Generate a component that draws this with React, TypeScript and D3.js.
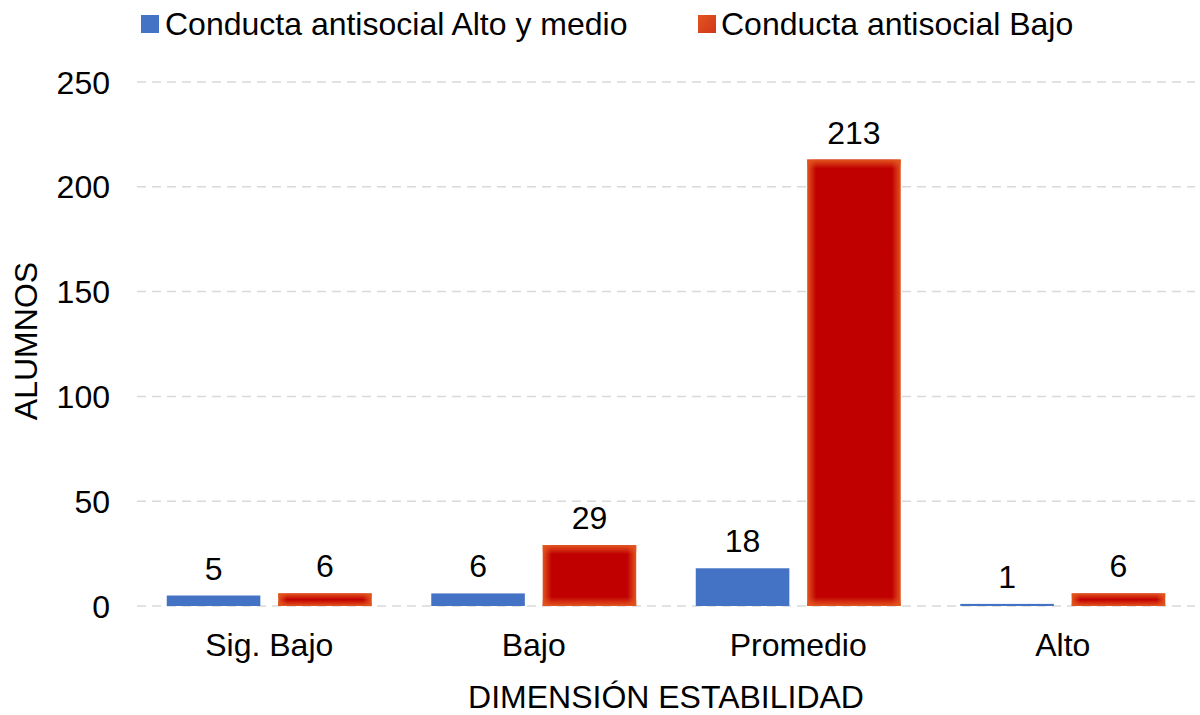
import React from "react";
import * as d3 from "d3";

const categories = ["Sig. Bajo", "Bajo", "Promedio", "Alto"];
const seriesNames = ["Conducta antisocial Alto y medio", "Conducta antisocial Bajo"];
const altoMedio = [5, 6, 18, 1];
const bajo = [6, 29, 213, 6];
const yTicks = [0, 50, 100, 150, 200, 250];

const W = 1200;
const H = 715;
const left = 137;
const right = 1195;
const top = 82;
const bottom = 606;
const FONT = "'Liberation Sans', Arial, sans-serif";
const FS = 32;
const BLUE = "#4472C4";

export default function App() {
  const x0 = d3.scaleBand<string>().domain(categories).range([left, right]).paddingInner(0.225).paddingOuter(0.1125);
  const x1 = d3.scaleBand<number>().domain([0, 1]).range([0, x0.bandwidth()]).paddingInner(0.16).paddingOuter(0);
  const y = d3.scaleLinear().domain([0, 250]).range([bottom, top]);

  const bars: { key: string; x: number; yTop: number; w: number; h: number; s: number; v: number }[] = [];
  categories.forEach((c, i) => {
    [altoMedio[i], bajo[i]].forEach((v, s) => {
      const xx = (x0(c) as number) + (x1(s) as number);
      const yt = y(v);
      bars.push({ key: `${i}-${s}`, x: xx, yTop: yt, w: x1.bandwidth(), h: y(0) - yt, s, v });
    });
  });

  const glow = 9;

  return (
    <svg width={W} height={H} style={{ display: "block", position: "absolute", left: 0, top: 0 }} fontFamily={FONT}>
      <defs>
        {bars.filter((b) => b.s === 1).map((b) => {
          const ox = Math.min(0.5, glow / b.w);
          const oy = Math.min(0.5, glow / Math.max(b.h, 1));
          return (
            <React.Fragment key={b.key}>
              <linearGradient id={`gh-${b.key}`} x1="0" y1="0" x2="1" y2="0">
                <stop offset="0" stopColor="#E2561F" />
                <stop offset={ox} stopColor="#C00000" />
                <stop offset={1 - ox} stopColor="#C00000" />
                <stop offset="1" stopColor="#E2561F" />
              </linearGradient>
              <linearGradient id={`gv-${b.key}`} x1="0" y1="0" x2="0" y2="1">
                <stop offset="0" stopColor="#E2561F" stopOpacity="1" />
                <stop offset={oy} stopColor="#E2561F" stopOpacity="0" />
                <stop offset={1 - oy} stopColor="#E2561F" stopOpacity="0" />
                <stop offset="1" stopColor="#E2561F" stopOpacity="1" />
              </linearGradient>
            </React.Fragment>
          );
        })}
        <linearGradient id="legRed" x1="0" y1="0" x2="1" y2="1">
          <stop offset="0" stopColor="#E2561F" />
          <stop offset="1" stopColor="#D0361A" />
        </linearGradient>
      </defs>
      <rect x={0} y={0} width={W} height={H} fill="#fff" />

      {yTicks.map((t) => (
        <g key={t}>
          <line x1={left} x2={right} y1={y(t)} y2={y(t)} stroke="#D9D9D9" strokeWidth={1.5} strokeDasharray="9,6" />
          <text x={110} y={y(t)} dy="0.36em" textAnchor="end" fontSize={FS} fill="#000">
            {t}
          </text>
        </g>
      ))}

      {bars.map((b) =>
        b.s === 0 ? (
          <rect key={b.key} x={b.x} y={b.yTop} width={b.w} height={b.h} fill={BLUE} />
        ) : (
          <g key={b.key}>
            <rect x={b.x} y={b.yTop} width={b.w} height={b.h} fill={`url(#gh-${b.key})`} />
            <rect x={b.x} y={b.yTop} width={b.w} height={b.h} fill={`url(#gv-${b.key})`} />
          </g>
        )
      )}

      {bars.map((b) => (
        <text key={"l" + b.key} x={b.x + b.w / 2} y={b.yTop - 16} textAnchor="middle" fontSize={FS} fill="#000">
          {b.v}
        </text>
      ))}

      {categories.map((c) => (
        <text key={c} x={(x0(c) as number) + x0.bandwidth() / 2} y={656} textAnchor="middle" fontSize={FS} fill="#000">
          {c}
        </text>
      ))}

      <text x={666} y={708} textAnchor="middle" fontSize={FS} fill="#000">
        DIMENSIÓN ESTABILIDAD
      </text>
      <text transform={`translate(37,341) rotate(-90)`} textAnchor="middle" fontSize={FS} fill="#000">
        ALUMNOS
      </text>

      <rect x={141} y={15} width={18} height={18} fill={BLUE} />
      <text x={165} y={35} fontSize={FS} fill="#000">
        {seriesNames[0]}
      </text>
      <rect x={698} y={15} width={18} height={18} fill="url(#legRed)" />
      <text x={721} y={35} fontSize={FS} fill="#000">
        {seriesNames[1]}
      </text>
    </svg>
  );
}
